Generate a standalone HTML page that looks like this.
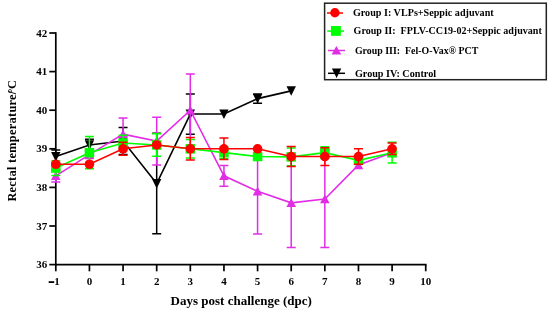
<!DOCTYPE html>
<html><head><meta charset="utf-8"><style>
html,body{margin:0;padding:0;background:#fff;}
body{width:550px;height:312px;overflow:hidden;}
svg{display:block;will-change:transform;}
.tk{font-family:"Liberation Serif",serif;font-weight:bold;font-size:11px;fill:#000;}
.lg{font-family:"Liberation Serif",serif;font-weight:bold;font-size:10px;fill:#000;}
.ax{font-family:"Liberation Serif",serif;font-weight:bold;font-size:13px;fill:#000;}
</style></head><body>
<svg width="550" height="312" viewBox="0 0 550 312">
<path d="M55.80 32.20V265.40" stroke="#000" stroke-width="1.7"/>
<path d="M55.00 264.60H426.53" stroke="#000" stroke-width="1.7"/>
<path d="M49.30 264.60H55.80" stroke="#000" stroke-width="1.7"/>
<text x="47.30" y="268.10" text-anchor="end" class="tk">36</text>
<path d="M49.30 226.00H55.80" stroke="#000" stroke-width="1.7"/>
<text x="47.30" y="229.50" text-anchor="end" class="tk">37</text>
<path d="M49.30 187.40H55.80" stroke="#000" stroke-width="1.7"/>
<text x="47.30" y="190.90" text-anchor="end" class="tk">38</text>
<path d="M49.30 148.80H55.80" stroke="#000" stroke-width="1.7"/>
<text x="47.30" y="152.30" text-anchor="end" class="tk">39</text>
<path d="M49.30 110.20H55.80" stroke="#000" stroke-width="1.7"/>
<text x="47.30" y="113.70" text-anchor="end" class="tk">40</text>
<path d="M49.30 71.60H55.80" stroke="#000" stroke-width="1.7"/>
<text x="47.30" y="75.10" text-anchor="end" class="tk">41</text>
<path d="M49.30 33.00H55.80" stroke="#000" stroke-width="1.7"/>
<text x="47.30" y="36.50" text-anchor="end" class="tk">42</text>
<path d="M55.80 264.60V271.30" stroke="#000" stroke-width="1.7"/>
<rect x="48.7" y="281.2" width="5.5" height="1.8" fill="#000"/>
<text x="54.3" y="285" class="tk">1</text>
<path d="M89.43 264.60V271.30" stroke="#000" stroke-width="1.7"/>
<text x="89.43" y="285" text-anchor="middle" class="tk">0</text>
<path d="M123.06 264.60V271.30" stroke="#000" stroke-width="1.7"/>
<text x="123.06" y="285" text-anchor="middle" class="tk">1</text>
<path d="M156.69 264.60V271.30" stroke="#000" stroke-width="1.7"/>
<text x="156.69" y="285" text-anchor="middle" class="tk">2</text>
<path d="M190.32 264.60V271.30" stroke="#000" stroke-width="1.7"/>
<text x="190.32" y="285" text-anchor="middle" class="tk">3</text>
<path d="M223.95 264.60V271.30" stroke="#000" stroke-width="1.7"/>
<text x="223.95" y="285" text-anchor="middle" class="tk">4</text>
<path d="M257.58 264.60V271.30" stroke="#000" stroke-width="1.7"/>
<text x="257.58" y="285" text-anchor="middle" class="tk">5</text>
<path d="M291.21 264.60V271.30" stroke="#000" stroke-width="1.7"/>
<text x="291.21" y="285" text-anchor="middle" class="tk">6</text>
<path d="M324.84 264.60V271.30" stroke="#000" stroke-width="1.7"/>
<text x="324.84" y="285" text-anchor="middle" class="tk">7</text>
<path d="M358.47 264.60V271.30" stroke="#000" stroke-width="1.7"/>
<text x="358.47" y="285" text-anchor="middle" class="tk">8</text>
<path d="M392.10 264.60V271.30" stroke="#000" stroke-width="1.7"/>
<text x="392.10" y="285" text-anchor="middle" class="tk">9</text>
<path d="M425.73 264.60V271.30" stroke="#000" stroke-width="1.7"/>
<text x="425.73" y="285" text-anchor="middle" class="tk">10</text>
<path d="M55.80 149.96V163.08M51.30 149.96h9M51.30 163.08h9" stroke="#000000" stroke-width="1.5" fill="none"/>
<path d="M89.43 139.15V150.73M84.93 139.15h9M84.93 150.73h9" stroke="#000000" stroke-width="1.5" fill="none"/>
<path d="M123.06 127.57V154.59M118.56 127.57h9M118.56 154.59h9" stroke="#000000" stroke-width="1.5" fill="none"/>
<path d="M156.69 133.36V233.72M152.19 133.36h9M152.19 233.72h9" stroke="#000000" stroke-width="1.5" fill="none"/>
<path d="M190.32 93.99V134.13M185.82 93.99h9M185.82 134.13h9" stroke="#000000" stroke-width="1.5" fill="none"/>
<path d="M257.58 93.99V103.25M253.08 93.99h9M253.08 103.25h9" stroke="#000000" stroke-width="1.5" fill="none"/>
<polyline points="55.80,156.52 89.43,144.94 123.06,141.08 156.69,183.54 190.32,114.06 223.95,114.06 257.58,98.62 291.21,90.90" stroke="#000000" stroke-width="1.6" fill="none" stroke-linejoin="miter"/>
<path d="M55.80 161.42L60.50 151.92L51.10 151.92Z" fill="#000000"/>
<path d="M89.43 149.84L94.13 140.34L84.73 140.34Z" fill="#000000"/>
<path d="M123.06 145.98L127.76 136.48L118.36 136.48Z" fill="#000000"/>
<path d="M156.69 188.44L161.39 178.94L151.99 178.94Z" fill="#000000"/>
<path d="M190.32 118.96L195.02 109.46L185.62 109.46Z" fill="#000000"/>
<path d="M223.95 118.96L228.65 109.46L219.25 109.46Z" fill="#000000"/>
<path d="M257.58 103.52L262.28 94.02L252.88 94.02Z" fill="#000000"/>
<path d="M291.21 95.80L295.91 86.30L286.51 86.30Z" fill="#000000"/>
<path d="M55.80 169.64V182.00M51.30 169.64h9M51.30 182.00h9" stroke="#e22de6" stroke-width="1.5" fill="none"/>
<path d="M89.43 150.73V158.45M84.93 150.73h9M84.93 158.45h9" stroke="#e22de6" stroke-width="1.5" fill="none"/>
<path d="M123.06 117.92V150.34M118.56 117.92h9M118.56 150.34h9" stroke="#e22de6" stroke-width="1.5" fill="none"/>
<path d="M156.69 117.15V165.01M152.19 117.15h9M152.19 165.01h9" stroke="#e22de6" stroke-width="1.5" fill="none"/>
<path d="M190.32 73.92V146.48M185.82 73.92h9M185.82 146.48h9" stroke="#e22de6" stroke-width="1.5" fill="none"/>
<path d="M223.95 165.40V186.24M219.45 165.40h9M219.45 186.24h9" stroke="#e22de6" stroke-width="1.5" fill="none"/>
<path d="M257.58 148.41V234.11M253.08 148.41h9M253.08 234.11h9" stroke="#e22de6" stroke-width="1.5" fill="none"/>
<path d="M291.21 158.06V247.62M286.71 158.06h9M286.71 247.62h9" stroke="#e22de6" stroke-width="1.5" fill="none"/>
<path d="M324.84 150.34V247.62M320.34 150.34h9M320.34 247.62h9" stroke="#e22de6" stroke-width="1.5" fill="none"/>
<path d="M392.10 148.80V156.52M387.60 148.80h9M387.60 156.52h9" stroke="#e22de6" stroke-width="1.5" fill="none"/>
<polyline points="55.80,175.82 89.43,154.59 123.06,134.13 156.69,141.08 190.32,110.20 223.95,175.82 257.58,191.26 291.21,202.84 324.84,198.98 358.47,165.01 392.10,152.66" stroke="#e22de6" stroke-width="1.6" fill="none" stroke-linejoin="miter"/>
<path d="M55.80 171.32L60.60 180.02L51.00 180.02Z" fill="#e22de6"/>
<path d="M89.43 150.09L94.23 158.79L84.63 158.79Z" fill="#e22de6"/>
<path d="M123.06 129.63L127.86 138.33L118.26 138.33Z" fill="#e22de6"/>
<path d="M156.69 136.58L161.49 145.28L151.89 145.28Z" fill="#e22de6"/>
<path d="M190.32 105.70L195.12 114.40L185.52 114.40Z" fill="#e22de6"/>
<path d="M223.95 171.32L228.75 180.02L219.15 180.02Z" fill="#e22de6"/>
<path d="M257.58 186.76L262.38 195.46L252.78 195.46Z" fill="#e22de6"/>
<path d="M291.21 198.34L296.01 207.04L286.41 207.04Z" fill="#e22de6"/>
<path d="M324.84 194.48L329.64 203.18L320.04 203.18Z" fill="#e22de6"/>
<path d="M358.47 160.51L363.27 169.21L353.67 169.21Z" fill="#e22de6"/>
<path d="M392.10 148.16L396.90 156.86L387.30 156.86Z" fill="#e22de6"/>
<path d="M55.80 160.77V175.43M51.30 160.77h9M51.30 175.43h9" stroke="#00ff00" stroke-width="1.5" fill="none"/>
<path d="M89.43 136.45V168.87M84.93 136.45h9M84.93 168.87h9" stroke="#00ff00" stroke-width="1.5" fill="none"/>
<path d="M123.06 135.29V150.73M118.56 135.29h9M118.56 150.73h9" stroke="#00ff00" stroke-width="1.5" fill="none"/>
<path d="M156.69 133.75V156.13M152.19 133.75h9M152.19 156.13h9" stroke="#00ff00" stroke-width="1.5" fill="none"/>
<path d="M190.32 139.54V158.06M185.82 139.54h9M185.82 158.06h9" stroke="#00ff00" stroke-width="1.5" fill="none"/>
<path d="M223.95 146.87V158.45M219.45 146.87h9M219.45 158.45h9" stroke="#00ff00" stroke-width="1.5" fill="none"/>
<path d="M257.58 153.43V159.61M253.08 153.43h9M253.08 159.61h9" stroke="#00ff00" stroke-width="1.5" fill="none"/>
<path d="M291.21 148.03V165.78M286.71 148.03h9M286.71 165.78h9" stroke="#00ff00" stroke-width="1.5" fill="none"/>
<path d="M324.84 146.87V158.45M320.34 146.87h9M320.34 158.45h9" stroke="#00ff00" stroke-width="1.5" fill="none"/>
<path d="M358.47 158.06V162.70M353.97 158.06h9M353.97 162.70h9" stroke="#00ff00" stroke-width="1.5" fill="none"/>
<path d="M392.10 142.24V163.08M387.60 142.24h9M387.60 163.08h9" stroke="#00ff00" stroke-width="1.5" fill="none"/>
<polyline points="55.80,168.10 89.43,152.66 123.06,143.01 156.69,144.94 190.32,148.80 223.95,152.66 257.58,156.52 291.21,156.91 324.84,152.66 358.47,160.38 392.10,152.66" stroke="#00ff00" stroke-width="1.6" fill="none" stroke-linejoin="miter"/>
<rect x="51.05" y="163.35" width="9.5" height="9.5" fill="#00ff00"/>
<rect x="84.68" y="147.91" width="9.5" height="9.5" fill="#00ff00"/>
<rect x="118.31" y="138.26" width="9.5" height="9.5" fill="#00ff00"/>
<rect x="151.94" y="140.19" width="9.5" height="9.5" fill="#00ff00"/>
<rect x="185.57" y="144.05" width="9.5" height="9.5" fill="#00ff00"/>
<rect x="219.20" y="147.91" width="9.5" height="9.5" fill="#00ff00"/>
<rect x="252.83" y="151.77" width="9.5" height="9.5" fill="#00ff00"/>
<rect x="286.46" y="152.16" width="9.5" height="9.5" fill="#00ff00"/>
<rect x="320.09" y="147.91" width="9.5" height="9.5" fill="#00ff00"/>
<rect x="353.72" y="155.63" width="9.5" height="9.5" fill="#00ff00"/>
<rect x="387.35" y="147.91" width="9.5" height="9.5" fill="#00ff00"/>
<path d="M123.06 142.24V155.36M118.56 142.24h9M118.56 155.36h9" stroke="#ff0000" stroke-width="1.5" fill="none"/>
<path d="M190.32 137.61V159.99M185.82 137.61h9M185.82 159.99h9" stroke="#ff0000" stroke-width="1.5" fill="none"/>
<path d="M223.95 137.99V159.61M219.45 137.99h9M219.45 159.61h9" stroke="#ff0000" stroke-width="1.5" fill="none"/>
<path d="M291.21 146.48V166.56M286.71 146.48h9M286.71 166.56h9" stroke="#ff0000" stroke-width="1.5" fill="none"/>
<path d="M324.84 147.64V165.40M320.34 147.64h9M320.34 165.40h9" stroke="#ff0000" stroke-width="1.5" fill="none"/>
<path d="M358.47 148.80V164.24M353.97 148.80h9M353.97 164.24h9" stroke="#ff0000" stroke-width="1.5" fill="none"/>
<path d="M392.10 143.01V154.59M387.60 143.01h9M387.60 154.59h9" stroke="#ff0000" stroke-width="1.5" fill="none"/>
<polyline points="55.80,164.24 89.43,164.24 123.06,148.80 156.69,144.94 190.32,148.80 223.95,148.80 257.58,148.80 291.21,156.52 324.84,156.52 358.47,156.52 392.10,148.80" stroke="#ff0000" stroke-width="1.6" fill="none" stroke-linejoin="miter"/>
<circle cx="55.80" cy="164.24" r="4.8" fill="#ff0000"/>
<circle cx="89.43" cy="164.24" r="4.8" fill="#ff0000"/>
<circle cx="123.06" cy="148.80" r="4.8" fill="#ff0000"/>
<circle cx="156.69" cy="144.94" r="4.8" fill="#ff0000"/>
<circle cx="190.32" cy="148.80" r="4.8" fill="#ff0000"/>
<circle cx="223.95" cy="148.80" r="4.8" fill="#ff0000"/>
<circle cx="257.58" cy="148.80" r="4.8" fill="#ff0000"/>
<circle cx="291.21" cy="156.52" r="4.8" fill="#ff0000"/>
<circle cx="324.84" cy="156.52" r="4.8" fill="#ff0000"/>
<circle cx="358.47" cy="156.52" r="4.8" fill="#ff0000"/>
<circle cx="392.10" cy="148.80" r="4.8" fill="#ff0000"/>
<text x="170.6" y="305" class="ax">Days post challenge (dpc)</text>
<text transform="translate(16.0 201.6) rotate(-90)" class="ax" style="font-size:12.3px" textLength="121.5" lengthAdjust="spacing">Rectal temperature/<tspan dx="-3.2">°</tspan><tspan dx="-0.6">C</tspan></text>

<rect x="324.6" y="3.2" width="221.7" height="76.5" fill="none" stroke="#222" stroke-width="1.5"/>
<path d="M327 13H343" stroke="#ff0000" stroke-width="1.5"/><circle cx="334.90" cy="12.80" r="4.7" fill="#ff0000"/>
<text x="352.9" y="16.2" class="lg" textLength="140.8" lengthAdjust="spacingAndGlyphs">Group I: VLPs+Seppic adjuvant</text>
<path d="M327.2 31.1H344" stroke="#00ff00" stroke-width="1.5"/><rect x="330.95" y="25.95" width="9.9" height="9.9" fill="#00ff00"/>
<text x="353.6" y="34.4" class="lg" textLength="188.2" lengthAdjust="spacingAndGlyphs">Group II:&#160; FPLV-CC19-02+Seppic adjuvant</text>
<path d="M328 50.5H345" stroke="#e22de6" stroke-width="1.5"/><path d="M336.40 45.90L341.20 54.60L331.60 54.60Z" fill="#e22de6"/>
<text x="354.9" y="54.4" class="lg" textLength="123.4" lengthAdjust="spacingAndGlyphs">Group III:&#160; Fel-O-Vax® PCT</text>
<path d="M328 73.3H345" stroke="#000000" stroke-width="1.5"/><path d="M336.60 77.90L341.30 68.40L331.90 68.40Z" fill="#000000"/>
<text x="354.9" y="76.9" class="lg" textLength="81.2" lengthAdjust="spacingAndGlyphs">Group IV: Control</text>

</svg>
</body></html>
